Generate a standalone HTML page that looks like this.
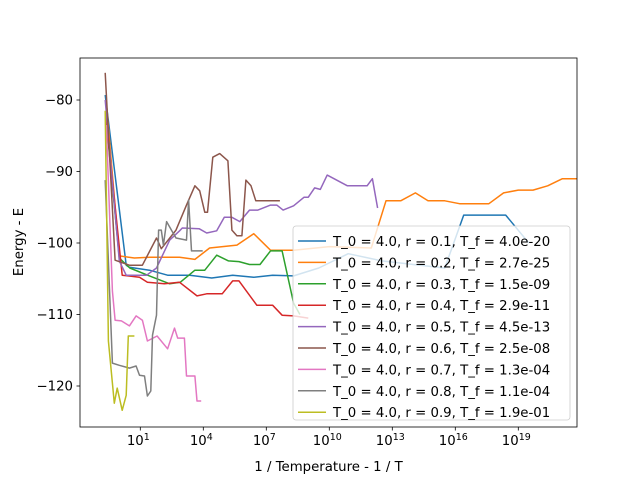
<!DOCTYPE html>
<html><head><meta charset="utf-8"><style>
body{margin:0;background:#fff;}
svg{display:block;font-family:"DejaVu Sans","Liberation Sans",sans-serif;}
</style></head><body>
<svg id="chart" width="640" height="480" xmlns="http://www.w3.org/2000/svg"></svg>
<script>
const xMajorTicks = [1, 4, 7, 10, 13, 16, 19];
const yTicks = [-80, -90, -100, -110, -120];
const seriesLabels = [
 "T_0 = 4.0, r = 0.1, T_f = 4.0e-20","T_0 = 4.0, r = 0.2, T_f = 2.7e-25","T_0 = 4.0, r = 0.3, T_f = 1.5e-09",
 "T_0 = 4.0, r = 0.4, T_f = 2.9e-11","T_0 = 4.0, r = 0.5, T_f = 4.5e-13","T_0 = 4.0, r = 0.6, T_f = 2.5e-08",
 "T_0 = 4.0, r = 0.7, T_f = 1.3e-04","T_0 = 4.0, r = 0.8, T_f = 1.1e-04","T_0 = 4.0, r = 0.9, T_f = 1.9e-01"];
const seriesColors = ["#1f77b4","#ff7f0e","#2ca02c","#d62728","#9467bd","#8c564b","#e377c2","#7f7f7f","#bcbd22"];
// log10(1/T) values and energies
const s1x = [-0.67,0.33,0.48,1.44,2.3,3.35,4.4,5.4,6.4,7.3,8.3,9.5,10.9,12.5,14,15.5,16.4,18.4,19.5];
const s1y = [-79.3,-103.1,-103.4,-103.8,-104.5,-104.5,-104.9,-104.5,-104.8,-104.5,-104.6,-103.5,-101.5,-102.5,-103,-103.5,-96.1,-96.1,-100];
const s2x = [-0.6,0,0.72,1.44,2.87,3.6,4.3,5.6,6.4,7.2,8.3,10,12,12.7,13.4,14.1,14.7,15.5,16.2,17.6,18.3,19,19.7,20.4,21.1,21.9];
const s2y = [-81,-101.8,-102.1,-102,-102,-102.3,-100.7,-100.3,-98.7,-101,-101,-100.5,-100.7,-94.1,-94.1,-93,-94.1,-94.1,-94.5,-94.5,-93,-92.6,-92.6,-92,-91,-91];
const s3x = [-0.65,0,0.5,1.44,2.4,2.9,3.6,4.07,4.64,5.2,5.7,6.2,6.7,7.2,7.75,8.3,8.6];
const s3y = [-82,-102.1,-103.5,-104.6,-105.7,-105.5,-103.8,-103.8,-101.7,-102.5,-102.6,-103,-103,-101.1,-101.1,-108.4,-110];
const s4x = [-0.65,0.14,0.96,1.34,2.15,2.87,3.7,4.16,4.9,5.4,5.7,6.55,7.3,7.75,8.3,9];
const s4y = [-82,-104.5,-104.8,-105.5,-105.7,-105.5,-107.4,-107.1,-107.1,-105.3,-105.3,-108.7,-108.7,-110.1,-110.2,-110.5];
const s5x = [-0.67,0,0.33,1.3,1.77,2.4,2.87,3.0,3.8,4.16,4.64,5.0,5.36,5.74,6.2,6.6,7.2,7.5,7.8,8.3,8.8,9.0,9.3,9.57,9.9,10.86,11.8,12.05,12.3];
const s5y = [-80,-102.5,-104.5,-104.5,-103.5,-99.6,-98.3,-97.9,-98,-98.6,-98.3,-96.4,-96.4,-97,-95.4,-95.4,-94.7,-94.7,-95.4,-94.8,-93.6,-93.6,-92.3,-92.5,-90.5,-92,-92,-91,-95.1];
const s6x = [-0.67,-0.2,0.48,1.1,1.77,2.0,2.7,3.2,3.6,3.83,4.07,4.2,4.45,4.78,5.17,5.36,5.6,5.84,6.03,6.27,6.5,7.65];
const s6y = [-76.2,-102.4,-103.1,-103.1,-99.3,-100.8,-98.2,-94.7,-92,-92.7,-95.7,-95.7,-88,-87.5,-88.5,-98.2,-99,-99,-91.2,-92,-94.1,-94.1];
const s7x = [-0.62,-0.33,-0.2,0.1,0.48,0.8,1.1,1.34,1.8,2.3,2.63,2.78,3.1,3.2,3.6,3.7,3.9];
const s7y = [-83.5,-106.7,-110.8,-110.9,-111.6,-110.2,-110.8,-113.7,-113,-114.8,-111.9,-113.3,-113.3,-118.6,-118.6,-122.1,-122.1];
const s8x = [-0.67,-0.33,0,0.48,0.8,0.96,1.2,1.34,1.5,1.58,1.77,1.87,2.0,2.1,2.25,2.5,2.7,3.2,3.3,3.44,3.97];
const s8y = [-91.2,-116.8,-117.1,-117.5,-117.2,-118.5,-118.6,-121.4,-120.7,-112.9,-110.1,-98.2,-98.2,-100.3,-97,-98.3,-99.3,-99.6,-94,-101.1,-101.1];
const s9x = [-0.67,-0.52,-0.33,-0.24,-0.1,0.14,0.33,0.43,0.72];
const s9y = [-81.5,-113.7,-119.6,-122.4,-120.3,-123.4,-121.3,-113,-113];
const allX=[s1x,s2x,s3x,s4x,s5x,s6x,s7x,s8x,s9x], allY=[s1y,s2y,s3y,s4y,s5y,s6y,s7y,s8y,s9y];

const L=80,R=577,T=58,B=427;
const xs=v=>119.3+v*21.0;
const ys=v=>100+(-80-v)*7.15;
const svg=document.getElementById('chart');
const NS="http://www.w3.org/2000/svg";
function mk(tag,attrs,parent){const e=document.createElementNS(NS,tag);for(const k in attrs)e.setAttribute(k,attrs[k]);(parent||svg).appendChild(e);return e;}

const clip=mk('clipPath',{id:'pc'});mk('rect',{x:L,y:T,width:R-L,height:B-T},clip);
const lines=mk('g',{'clip-path':'url(#pc)'});


allX.forEach((xa,i)=>{
  const p=mk('polyline',{points:xa.map((x,j)=>xs(x).toFixed(1)+','+ys(allY[i][j]).toFixed(1)).join(' '),fill:'none',stroke:seriesColors[i],'stroke-width':1.5,'stroke-linejoin':'round'},lines);
  
  
});
const frame=mk('rect',{x:L,y:T,width:R-L,height:B-T,fill:'none',stroke:'#000','stroke-width':0.8});



xMajorTicks.forEach(t=>{
  const x=xs(t);
  mk('line',{x1:x,x2:x,y1:B,y2:B+3.5,stroke:'#000','stroke-width':0.8});
  const tx=mk('text',{x:x-2,y:B+18,'font-size':'13.3','text-anchor':'middle',fill:'#000'});
  
  
  tx.textContent='10';
  const sp=mk('tspan',{dy:-5,'font-size':'9.5'},tx);sp.textContent=t;
});
yTicks.forEach(t=>{
  const y=ys(t);
  mk('line',{x1:L-3.5,x2:L,y1:y,y2:y,stroke:'#000','stroke-width':0.8});
  const tx=mk('text',{x:L-7,y:y+4.5,'font-size':'13.3','text-anchor':'end',fill:'#000'});
  
  
  tx.textContent='\u2212'+Math.abs(t);
});
const xt=mk('text',{x:(L+R)/2,y:471,'font-size':'13.3','text-anchor':'middle'});


xt.textContent='1 / Temperature - 1 / T';
const yt=mk('text',{x:0,y:0,'font-size':'13.3','text-anchor':'middle',transform:'translate(23,242) rotate(-90)'});


yt.textContent='Energy - E';

const lg=mk('g',{});


mk('rect',{x:293,y:226,width:277,height:194,rx:3,fill:'#fff','fill-opacity':0.8,stroke:'#ccc','stroke-width':0.8},lg);
seriesLabels.forEach((s,i)=>{
  const y=241+i*21.4;
  const g=mk('g',{},lg);
  
  
  mk('line',{x1:298,x2:326,y1:y,y2:y,stroke:seriesColors[i],'stroke-width':1.5},g);
  const tx=mk('text',{x:333,y:y+5,'font-size':'13.3'},g);
  tx.textContent=s;
});
</script>
</body></html>
